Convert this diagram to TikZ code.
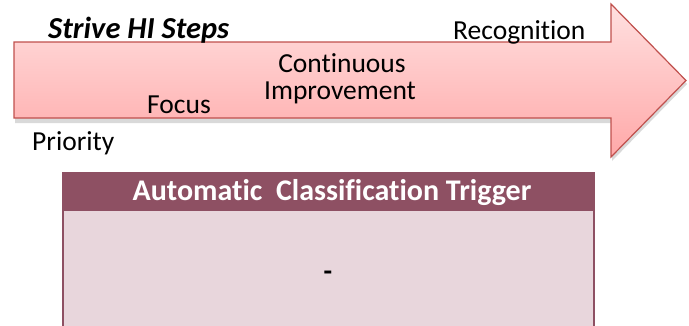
\documentclass[tikz,border=0pt]{standalone}
\usepackage{fontspec}
\setmainfont{Carlito}[Ligatures={NoCommon}]
\usetikzlibrary{shadows}
\definecolor{arrowedge}{RGB}{192,80,77}
\definecolor{arrowtop}{RGB}{255,224,224}
\definecolor{arrowbot}{RGB}{255,168,168}
\definecolor{hdr}{RGB}{142,80,99}
\definecolor{bodyfill}{RGB}{232,214,220}
\tikzset{
  lbl/.style={inner sep=0pt, anchor=base west, font=\fontsize{27.5}{27}\selectfont},
  hdrtext/.style={inner sep=0pt, anchor=base, text=white, font=\fontsize{30}{30}\selectfont\bfseries},
}
\begin{document}
\begin{tikzpicture}[x=1pt,y=-1pt]
\useasboundingbox (0,0) rectangle (689,325);
\clip (0,0) rectangle (689,325);
% arrow
\fill[black, opacity=0.15] (15,45) -- (612,45) -- (612,8) -- (687,84) -- (612,161) -- (612,123) -- (15,123) -- cycle;
\draw[arrowedge, line width=1.2pt, top color=arrowtop, bottom color=arrowbot]
  (14,42) -- (611,42) -- (611,4) -- (686,80.5) -- (611,157) -- (611,118) -- (14,118) -- cycle;
% labels
\node[lbl, font=\fontsize{30.5}{30}\selectfont\bfseries\itshape] (title) at (48,38) {Strive HI Steps};
\node[lbl] (recog) at (453,39) {Recognition};
\node[lbl, anchor=base] (cont) at (342,72) {Continuous};
\node[lbl, anchor=base] (impr) at (340,99) {Improvement};
\node[lbl] (focus) at (147,113) {Focus};
\node[lbl] (prio) at (32,150) {Priority};
% box
\fill[bodyfill] (62,211) rectangle (595,330);
\draw[hdr, line width=2pt] (63,211) -- (63,330);
\draw[hdr, line width=2pt] (594,211) -- (594,330);
\fill[hdr] (62,172) rectangle (595,211);
\node[hdrtext] (hdrlbl) at (332,200) {Automatic\ \ Classification Trigger};
\node[inner sep=0pt, anchor=base, font=\fontsize{28}{28}\selectfont\bfseries] (dash) at (328,280) {-};
\end{tikzpicture}
\end{document}
